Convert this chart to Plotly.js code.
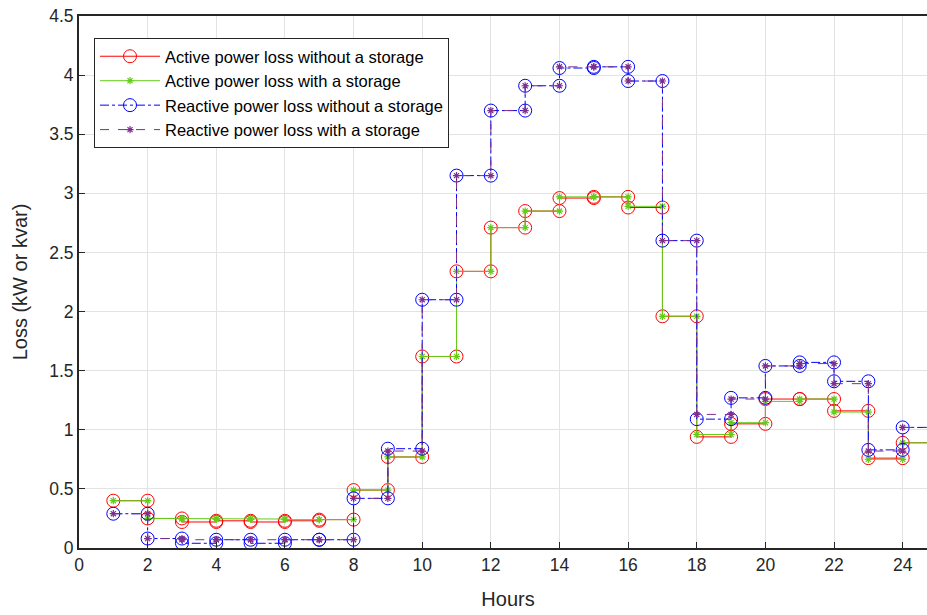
<!DOCTYPE html>
<html>
<head>
<meta charset="utf-8">
<script src="https://cdn.plot.ly/plotly-3.0.1.min.js"></script>
<style>
html,body{margin:0;padding:0;overflow:hidden;background:#fff;}
#chart{width:945px;height:615px;}
</style>
</head>
<body>
<div id="chart"></div>
<script>
// Hours 1..24 (each value holds from hour h to h+1)
const hours = [1,2,3,4,5,6,7,8,9,10,11,12,13,14,15,16,17,18,19,20,21,22,23,24];
const activeNoStorage   = [0.40,0.25,0.22,0.23,0.22,0.23,0.24,0.49,0.77,1.62,2.34,2.71,2.85,2.96,2.97,2.88,1.96,0.94,1.05,1.26,1.26,1.16,0.76,0.89];
const activeWithStorage = [0.40,0.25,0.245,0.245,0.245,0.24,0.24,0.49,0.77,1.62,2.34,2.71,2.85,2.97,2.97,2.89,1.96,0.96,1.06,1.24,1.26,1.15,0.75,0.89];
const reactiveNoStorage   = [0.29,0.08,0.04,0.07,0.04,0.07,0.07,0.42,0.84,2.10,3.15,3.70,3.91,4.06,4.07,3.95,2.60,1.09,1.27,1.54,1.57,1.41,0.83,1.02];
const reactiveWithStorage = [0.29,0.08,0.07,0.07,0.07,0.07,0.07,0.42,0.82,2.10,3.15,3.70,3.91,4.07,4.07,3.95,2.60,1.13,1.26,1.54,1.56,1.39,0.82,1.02];
const seriesNames = ["Active power loss without a storage","Active power loss with a storage","Reactive power loss without a storage","Reactive power loss with a storage"];
const xTicks = [0,2,4,6,8,10,12,14,16,18,20,22,24];
const yTicks = [0,0.5,1,1.5,2,2.5,3,3.5,4,4.5];

function stairs(xs, ys){
  const sx=[], sy=[];
  for(let i=0;i<xs.length;i++){
    sx.push(xs[i]); sy.push(ys[i]);
    sx.push(xs[i]+1); sy.push(ys[i]);
  }
  return {x:sx,y:sy};
}

const red='#ff0000', green='#66cc1a', blue='#0000ff', purple='#7e2f8e';
const s1=stairs(hours,activeNoStorage), s2=stairs(hours,activeWithStorage),
      s3=stairs(hours,reactiveNoStorage), s4=stairs(hours,reactiveWithStorage);

const traces=[
 {x:s1.x,y:s1.y,name:seriesNames[0],mode:'lines+markers',line:{color:red,width:1,dash:'solid'},
  marker:{symbol:'circle-open',size:13,color:red,line:{color:red,width:1}}},
 {x:s2.x,y:s2.y,name:seriesNames[1],mode:'lines+markers',line:{color:green,width:1,dash:'solid'},
  marker:{symbol:'asterisk-open',size:6,color:green,line:{color:green,width:1.2}}},
 {x:s3.x,y:s3.y,name:seriesNames[2],mode:'lines+markers',line:{color:blue,width:1,dash:'dashdot'},
  marker:{symbol:'circle-open',size:13,color:blue,line:{color:blue,width:1}}},
 {x:s4.x,y:s4.y,name:seriesNames[3],mode:'lines+markers',line:{color:purple,width:1,dash:'dash'},
  marker:{symbol:'asterisk-open',size:6,color:purple,line:{color:purple,width:1.2}}}
];

const fontFam='Liberation Sans, Arial, sans-serif';
const layout={
  width:945,height:615,
  margin:{l:79,r:8,t:16,b:67},
  paper_bgcolor:'#fff',plot_bgcolor:'#fff',
  font:{family:fontFam,size:17,color:'#262626'},
  showlegend:true,
  legend:{x:0.0175,y:0.9586,xanchor:'left',yanchor:'top',bgcolor:'#fff',bordercolor:'#262626',borderwidth:1,
          font:{family:fontFam,size:16.5,color:'#000'},tracegroupgap:0,itemwidth:60},
  xaxis:{range:[0,25],tickvals:xTicks,ticktext:xTicks.map(String),showgrid:true,gridcolor:'#e3e3e3',gridwidth:1,
         zeroline:false,showline:true,linecolor:'#262626',linewidth:2,mirror:true,ticks:'inside',ticklen:6,tickcolor:'#262626',
         title:{text:'Hours',font:{family:fontFam,size:20,color:'#262626'},standoff:18},tickfont:{size:17.5}},
  yaxis:{range:[0,4.5],tickvals:yTicks,ticktext:yTicks.map(String),showgrid:true,gridcolor:'#e3e3e3',gridwidth:1,
         zeroline:false,showline:true,linecolor:'#262626',linewidth:2,mirror:true,ticks:'inside',ticklen:6,tickcolor:'#262626',
         title:{text:'Loss (kW or kvar)',font:{family:fontFam,size:20,color:'#262626'},standoff:16},tickfont:{size:17.5}}
};
Plotly.newPlot('chart',traces,layout,{displayModeBar:false,staticPlot:true});
</script>
</body>
</html>
